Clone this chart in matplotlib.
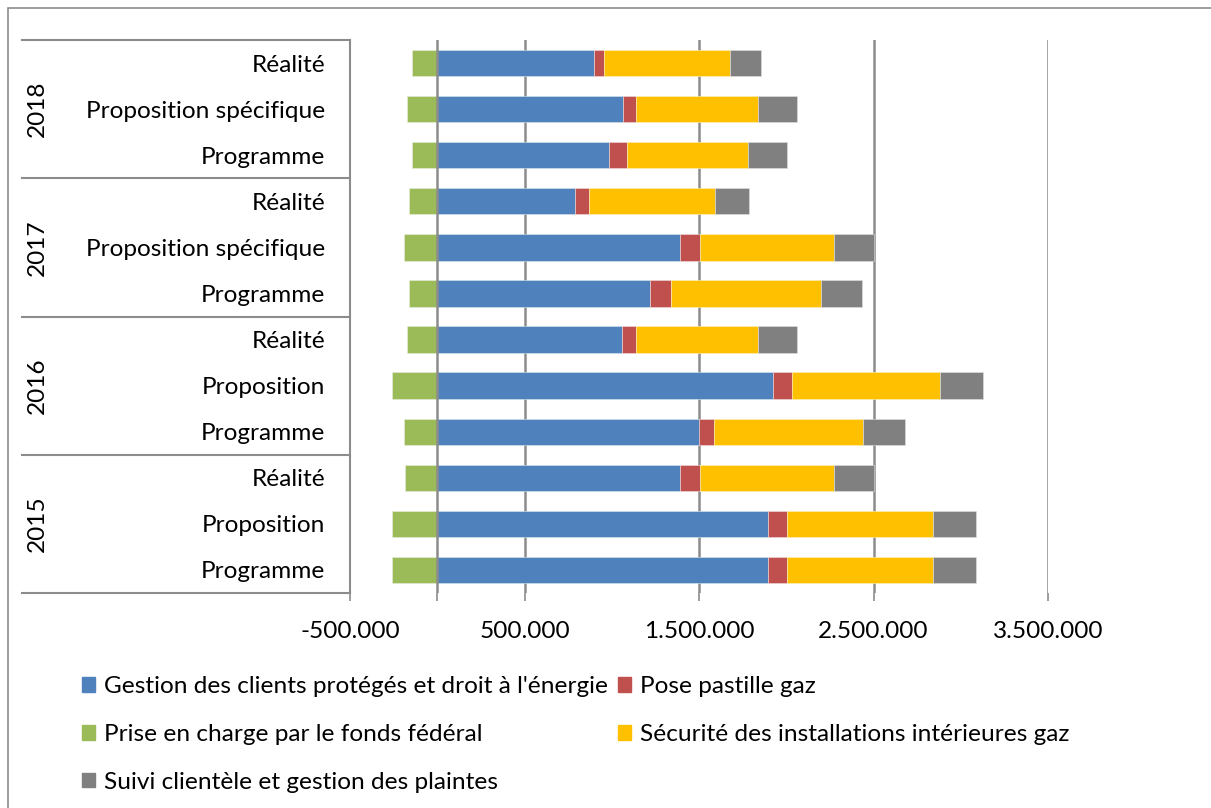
import matplotlib
matplotlib.use('Agg')
import matplotlib.pyplot as plt
from matplotlib.patches import Patch, Rectangle
from matplotlib.ticker import FuncFormatter
import numpy as np

plt.rcParams['font.family'] = ['Lato', 'DejaVu Sans']
FS = 17.6

# categories from bottom to top (Excel order)
years = ['2015', '2016', '2017', '2018']
scenarios = ['Programme', 'Proposition', 'Réalité',
             'Programme', 'Proposition', 'Réalité',
             'Programme', 'Proposition spécifique', 'Réalité',
             'Programme', 'Proposition spécifique', 'Réalité']

gestion = [1897000, 1897000, 1389000, 1501000, 1922000, 1060000,
           1222000, 1389000, 787000, 986000, 1062000, 900000]
pose = [109000, 109000, 118000, 86000, 111000, 80000,
        118000, 118000, 84000, 103000, 78000, 57000]
securite = [833000, 833000, 768000, 854000, 846000, 699000,
            858000, 768000, 718000, 693000, 699000, 722000]
suivi = [246000, 246000, 229000, 237000, 248000, 220000,
         237000, 225000, 195000, 225000, 222000, 178000]
fonds = [-258000, -258000, -187000, -193000, -262000, -176000,
         -162000, -189000, -164000, -147000, -176000, -145000]

labels = ["Gestion des clients protégés et droit à l'énergie",
          "Pose pastille gaz",
          "Prise en charge par le fonds fédéral",
          "Sécurité des installations intérieures gaz",
          "Suivi clientèle et gestion des plaintes"]
colors = ['#4F81BD', '#C0504D', '#9BBB59', '#FFC000', '#808080']

W, H = 1211, 808
fig = plt.figure(figsize=(W / 100, H / 100), dpi=100)
ax = fig.add_axes([350 / W, 1 - 593 / H, (1048 - 350) / W, (593 - 40) / H])

y = np.arange(len(scenarios))
h = 0.57
g = np.array(gestion)
p = np.array(pose)
s = np.array(securite)
ax.barh(y, gestion, h, color=colors[0], edgecolor='#dde6f0', lw=0.4, zorder=3)
ax.barh(y, pose, h, left=g, color=colors[1], edgecolor='#f0dddd', lw=0.4, zorder=3)
ax.barh(y, securite, h, left=g + p, color=colors[3], edgecolor='#fff0c0', lw=0.4, zorder=3)
ax.barh(y, suivi, h, left=g + p + s, color=colors[4], edgecolor='#e0e0e0', lw=0.4, zorder=3)
ax.barh(y, fonds, h, color=colors[2], edgecolor='#e6eedd', lw=0.4, zorder=3)

ax.set_xlim(-500000, 3500000)
ax.set_ylim(-0.5, len(scenarios) - 0.5)

grid_c = '#8c8c8c'
for v in [500000, 1500000, 2500000, 3500000]:
    ax.axvline(v, color=grid_c, lw=1.8, zorder=1)
ax.axvline(0, color=grid_c, lw=1.8, zorder=4)

for sp in ['top', 'right', 'bottom']:
    ax.spines[sp].set_visible(False)
ax.spines['left'].set_color(grid_c)
ax.spines['left'].set_linewidth(1.5)

ax.set_xticks([-500000, 500000, 1500000, 2500000, 3500000])
ax.set_xticks([0], minor=True)
ax.xaxis.set_major_formatter(FuncFormatter(lambda v, pos: f"{int(v):,}".replace(',', '.')))
ax.tick_params(axis='x', which='both', length=6, color=grid_c, width=1.2,
               labelsize=FS, pad=14)

ax.set_yticks(y)
ax.set_yticklabels(scenarios)
ax.tick_params(axis='y', length=0, labelsize=FS, pad=18)

# group separators and year labels
xl = (22 - 350) / (1048 - 350)
for b in [-0.5, 2.5, 5.5, 8.5, 11.5]:
    ax.plot([xl, 0], [b, b], color=grid_c, lw=1.5, transform=ax.get_yaxis_transform(),
            clip_on=False)
xy = (37 - 350) / (1048 - 350)
for i, yr in enumerate(years):
    ax.text(xy, 3 * i + 1, yr, rotation=90, ha='center', va='center', fontsize=FS,
            transform=ax.get_yaxis_transform())

# chart border
fig.patches.append(Rectangle((8 / W, -0.1), 1.2, 1 - 8 / H + 0.1, transform=fig.transFigure,
                             fill=False, edgecolor='#8c8c8c', lw=1.2))

order = [0, 2, 4, 1, 3]
handles = [Patch(color=colors[i]) for i in order]
fig.legend(handles, [labels[i] for i in order], ncol=2, loc='upper left',
           bbox_to_anchor=(82 / W, 1 - 676 / H), frameon=False, fontsize=FS,
           handlelength=0.55, handleheight=0.55, handletextpad=0.35,
           labelspacing=1.1, columnspacing=0.4, borderpad=0, borderaxespad=0)

fig.savefig('out.png', dpi=100)
